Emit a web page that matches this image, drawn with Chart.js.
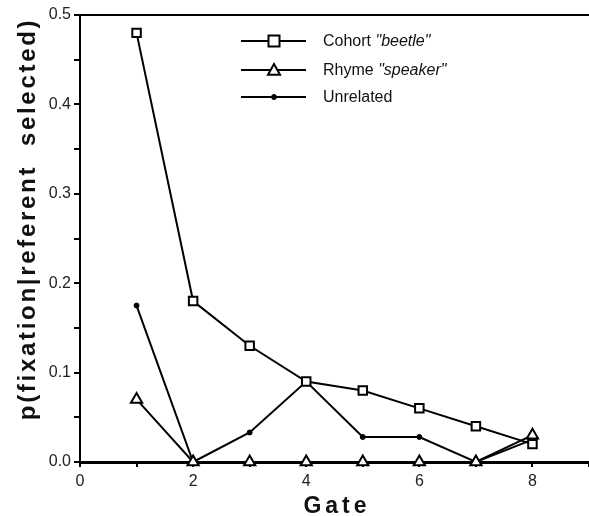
<!DOCTYPE html>
<html>
<head>
<meta charset="utf-8">
<script src="https://cdn.jsdelivr.net/npm/chart.js@4/dist/chart.umd.min.js"></script>
<style>
  html, body { margin: 0; padding: 0; background: #fff; }
  #wrap { width: 589px; height: 516px; position: relative; }
</style>
</head>
<body>
<div id="wrap"><canvas id="myChart" width="589" height="516"></canvas></div>
<script>
// gates and proportions
const gates = [1, 2, 3, 4, 5, 6, 7, 8];
const cohortValues = [0.48, 0.18, 0.13, 0.09, 0.08, 0.06, 0.04, 0.02];
const rhymeValues = [0.07, 0, 0, 0, 0, 0, 0, 0.03];
const unrelatedValues = [0.175, 0, 0.033, 0.09, 0.028, 0.028, 0, 0.025];
const seriesNames = ['Cohort', 'Rhyme', 'Unrelated'];
const seriesWords = ['"beetle"', '"speaker"', ''];
const yTicks = [0, 0.1, 0.2, 0.3, 0.4, 0.5];
const xTickLabels = [0, 2, 4, 6, 8];
const xTitle = 'Gate';
const yTitle = 'p(fixation|referent  selected)';

const FONT = '"Liberation Sans", Arial, Helvetica, sans-serif';

function toPoints(values) {
  return gates.map((g, i) => ({ x: g, y: values[i] }));
}

// draws the top frame line, the axis titles (spaced out like the print) and the legend
const framePlugin = {
  id: 'frame',
  afterDraw(chart) {
    const ctx = chart.ctx;
    const area = chart.chartArea;
    ctx.save();
    ctx.strokeStyle = '#000';
    ctx.lineWidth = 2;
    ctx.beginPath();
    ctx.moveTo(area.left, area.top);
    ctx.lineTo(area.right, area.top);
    ctx.stroke();

    // axis titles
    ctx.fillStyle = '#111';
    ctx.textAlign = 'center';
    ctx.textBaseline = 'alphabetic';
    ctx.letterSpacing = '4px';
    ctx.font = 'bold 23px ' + FONT;
    ctx.fillText(xTitle, 337, 513);
    ctx.save();
    ctx.translate(35, 219);
    ctx.rotate(-Math.PI / 2);
    ctx.letterSpacing = '2.7px';
    ctx.font = 'bold 24px ' + FONT;
    ctx.fillText(yTitle, 0, 0);
    ctx.restore();
    ctx.letterSpacing = '0px';
    ctx.textAlign = 'left';

    // legend
    const lx = area.left + 161, rowY = [41, 70, 97];
    chart.data.datasets.forEach((ds, i) => {
      const y = rowY[i];
      ctx.strokeStyle = '#000';
      ctx.lineWidth = 2;
      ctx.beginPath();
      ctx.moveTo(lx, y);
      ctx.lineTo(lx + 65, y);
      ctx.stroke();
      ctx.fillStyle = ds.pointBackgroundColor;
      ctx.lineWidth = ds.pointBorderWidth;
      ctx.beginPath();
      const r = ds.pointRadius - 0.5;
      const cx = lx + 33;
      if (ds.pointStyle === 'rect') {
        ctx.rect(cx - r, y - r, r * 2, r * 2);
      } else if (ds.pointStyle === 'triangle') {
        ctx.moveTo(cx, y - r);
        ctx.lineTo(cx + r, y + r * 0.8);
        ctx.lineTo(cx - r, y + r * 0.8);
        ctx.closePath();
      } else {
        ctx.arc(cx, y, r + 0.5, 0, Math.PI * 2);
      }
      ctx.fill();
      ctx.stroke();

      ctx.fillStyle = '#111';
      ctx.textBaseline = 'middle';
      ctx.font = '16px ' + FONT;
      const name = seriesNames[i] + (seriesWords[i] ? ' ' : '');
      ctx.fillText(name, lx + 82, y + 1);
      if (seriesWords[i]) {
        const w = ctx.measureText(name).width;
        ctx.font = 'italic 16px ' + FONT;
        ctx.fillText(seriesWords[i], lx + 82 + w, y + 1);
      }
    });
    ctx.restore();
  }
};

const lineStyle = {
  borderColor: '#000',
  borderWidth: 2,
  pointBorderColor: '#000',
  tension: 0,
  clip: false
};

const ctx = document.getElementById('myChart');

let chart = new Chart(ctx, {
  type: 'line',
  data: {
    datasets: [
      Object.assign({}, lineStyle, {
        label: seriesNames[0],
        data: toPoints(cohortValues),
        pointStyle: 'rect',
        pointRadius: 6,
        pointBorderWidth: 2,
        pointBackgroundColor: '#fff'
      }),
      Object.assign({}, lineStyle, {
        label: seriesNames[1],
        data: toPoints(rhymeValues),
        pointStyle: 'triangle',
        pointRadius: 6.5,
        pointBorderWidth: 2,
        pointBackgroundColor: '#fff'
      }),
      Object.assign({}, lineStyle, {
        label: seriesNames[2],
        data: toPoints(unrelatedValues),
        pointStyle: 'circle',
        pointRadius: 2.5,
        pointBorderWidth: 1,
        pointBackgroundColor: '#000'
      })
    ]
  },
  options: {
    responsive: false,
    animation: false,
    layout: { autoPadding: false, padding: { top: 15, right: 0, left: 0, bottom: 0 } },
    plugins: {
      legend: { display: false },
      tooltip: { enabled: false }
    },
    scales: {
      x: {
        type: 'linear',
        min: 0,
        max: 9,
        afterFit(scale) {
          scale.height = 54;
          scale.paddingRight = 0;
          scale.paddingLeft = 0;
        },
        border: { color: '#000', width: 3 },
        grid: { display: true, drawOnChartArea: false, drawTicks: true, tickLength: 5, color: '#000', lineWidth: 2 },
        afterBuildTicks(scale) {
          scale.ticks = [0, 1, 2, 3, 4, 5, 6, 7, 8, 9].map(v => ({ value: v }));
        },
        ticks: {
          color: '#222',
          font: { family: FONT, size: 16 },
          padding: 5,
          maxRotation: 0,
          callback: v => xTickLabels.includes(v) ? String(v) : ''
        }
      },
      y: {
        min: 0,
        max: 0.5,
        afterFit(scale) { scale.width = 80; },
        border: { color: '#000', width: 2 },
        grid: { display: true, drawOnChartArea: false, drawTicks: true, tickLength: 6, color: '#000', lineWidth: 2 },
        afterBuildTicks(scale) {
          scale.ticks = [0, 0.05, 0.1, 0.15, 0.2, 0.25, 0.3, 0.35, 0.4, 0.45, 0.5].map(v => ({ value: v }));
        },
        ticks: {
          color: '#222',
          font: { family: FONT, size: 16 },
          padding: 3,
          callback: v => {
            const hit = yTicks.find(t => Math.abs(t - v) < 1e-6);
            return hit === undefined ? '' : hit.toFixed(1);
          }
        }
      }
    }
  },
  plugins: [framePlugin]
});
</script>
</body>
</html>
